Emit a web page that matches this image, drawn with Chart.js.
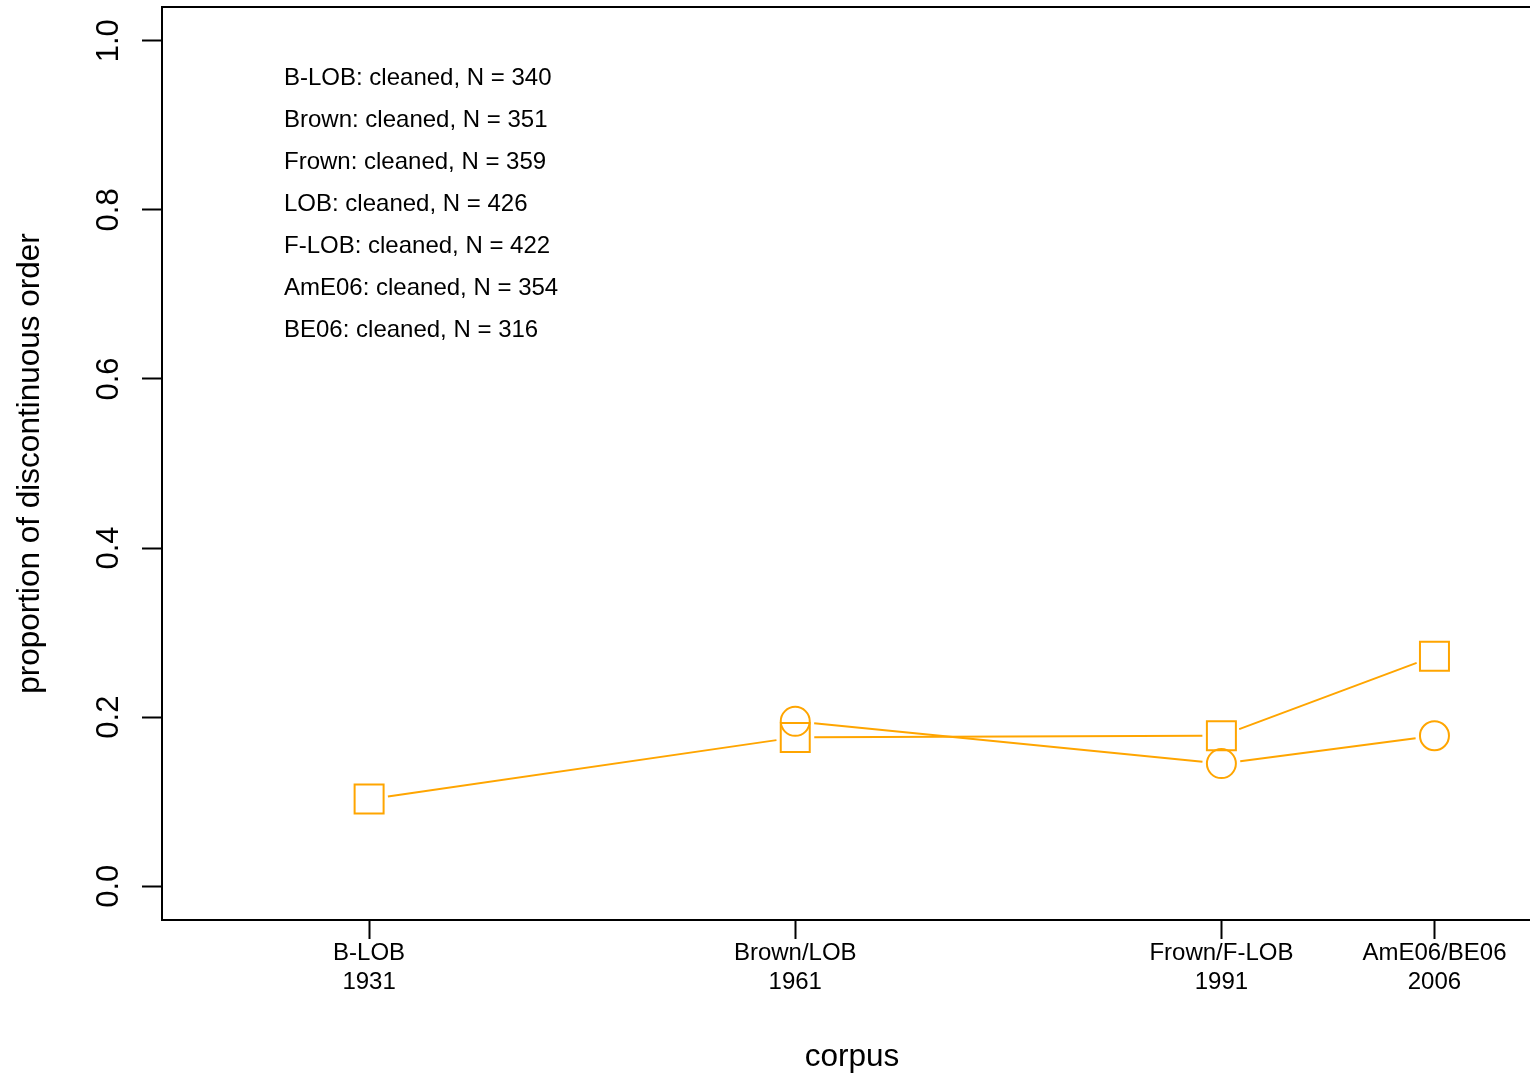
<!DOCTYPE html>
<html>
<head>
<meta charset="utf-8">
<script src="https://cdn.jsdelivr.net/npm/chart.js@4/dist/chart.umd.min.js"></script>
<style>
  html, body { margin: 0; padding: 0; background: #fff; width: 1530px; height: 1075px; overflow: hidden; }
  canvas { display: block; }
</style>
</head>
<body>
<canvas id="chart" width="1545" height="1075" style="width:1545px;height:1075px"></canvas>
<script>
// Corpus sampling points (year of each corpus pair) and their two-line tick labels
const corpusYears = [1931, 1961, 1991, 2006];
const corpusTickLabels = [
  ["B-LOB", "1931"],
  ["Brown/LOB", "1961"],
  ["Frown/F-LOB", "1991"],
  ["AmE06/BE06", "2006"]
];

// British English corpora (B-LOB, LOB, F-LOB, BE06) — squares
const britishYears = [1931, 1961, 1991, 2006];
const britishValues = [0.103, 0.176, 0.178, 0.272];

// American English corpora (Brown, Frown, AmE06) — circles
const americanYears = [1961, 1991, 2006];
const americanValues = [0.195, 0.145, 0.178];

// Y axis ticks
const yTickValues = [0, 0.2, 0.4, 0.6, 0.8, 1.0];
const yTickLabels = ["0.0", "0.2", "0.4", "0.6", "0.8", "1.0"];

// Sample sizes per corpus
const sampleNotes = [
  "B-LOB: cleaned, N = 340",
  "Brown: cleaned, N = 351",
  "Frown: cleaned, N = 359",
  "LOB: cleaned, N = 426",
  "F-LOB: cleaned, N = 422",
  "AmE06: cleaned, N = 354",
  "BE06: cleaned, N = 316"
];

const xTitle = "corpus";
const yTitle = "proportion of discontinuous order";

const FONT = '"Liberation Sans", Arial, Helvetica, sans-serif';
const ORANGE = "#FFA500";

function toPoints(xs, ys) {
  return xs.map((x, i) => ({ x: x, y: ys[i] }));
}

// Connecting lines with a small gap around each marker (like type = "b")
const gappedLines = {
  id: "gappedLines",
  beforeDatasetsDraw(chart) {
    const ctx = chart.ctx;
    const gap = 19;
    ctx.save();
    ctx.strokeStyle = ORANGE;
    ctx.lineWidth = 2;
    chart.data.datasets.forEach((ds, di) => {
      const pts = chart.getDatasetMeta(di).data;
      for (let i = 0; i < pts.length - 1; i++) {
        const a = pts[i], b = pts[i + 1];
        const dx = b.x - a.x, dy = b.y - a.y;
        const len = Math.hypot(dx, dy);
        if (len <= 2 * gap) continue;
        const ux = dx / len, uy = dy / len;
        ctx.beginPath();
        ctx.moveTo(a.x + ux * gap, a.y + uy * gap);
        ctx.lineTo(b.x - ux * gap, b.y - uy * gap);
        ctx.stroke();
      }
    });
    ctx.restore();
  }
};

// Frame, rotated y tick labels, axis titles and the sample-size notes
const annotations = {
  id: "annotations",
  afterDraw(chart) {
    const ctx = chart.ctx;
    const area = chart.chartArea;
    const yScale = chart.scales.y;
    ctx.save();

    ctx.strokeStyle = "#000";
    ctx.lineWidth = 2;
    ctx.strokeRect(area.left, area.top, area.right - area.left, area.bottom - area.top);

    ctx.fillStyle = "#000";
    ctx.font = "31px " + FONT;
    ctx.textAlign = "center";
    ctx.textBaseline = "alphabetic";
    yTickValues.forEach((v, i) => {
      const py = yScale.getPixelForValue(v);
      ctx.save();
      ctx.translate(117.5, py);
      ctx.rotate(-Math.PI / 2);
      ctx.fillText(yTickLabels[i], 0, 0);
      ctx.restore();
    });

    ctx.font = "31.5px " + FONT;
    ctx.save();
    ctx.translate(38.5, (area.top + area.bottom) / 2);
    ctx.rotate(-Math.PI / 2);
    ctx.fillText(yTitle, 0, 0);
    ctx.restore();

    ctx.fillText(xTitle, 852, 1066);

    ctx.font = "24px " + FONT;
    ctx.textAlign = "left";
    sampleNotes.forEach((t, i) => {
      ctx.fillText(t, 284, 84.5 + i * 42.15);
    });

    ctx.restore();
  }
};

new Chart(document.getElementById("chart"), {
  type: "scatter",
  data: {
    datasets: [
      {
        label: "BrE",
        data: toPoints(britishYears, britishValues),
        showLine: false,
        pointStyle: "rect",
        pointRadius: 20.5,
        pointBorderWidth: 2,
        pointBorderColor: ORANGE,
        pointBackgroundColor: "rgba(0,0,0,0)"
      },
      {
        label: "AmE",
        data: toPoints(americanYears, americanValues),
        showLine: false,
        pointStyle: "circle",
        pointRadius: 14.5,
        pointBorderWidth: 2,
        pointBorderColor: ORANGE,
        pointBackgroundColor: "rgba(0,0,0,0)"
      }
    ]
  },
  options: {
    responsive: false,
    animation: false,
    events: [],
    devicePixelRatio: 1,
    layout: { autoPadding: false, padding: { top: 7, right: 4, left: 0, bottom: 0 } },
    plugins: {
      legend: { display: false },
      tooltip: { enabled: false },
      title: { display: false }
    },
    scales: {
      x: {
        type: "linear",
        min: 1916.42,
        max: 2013.5,
        afterBuildTicks(scale) {
          scale.ticks = corpusYears.map(v => ({ value: v }));
        },
        afterFit(scale) { scale.height = 155; },
        border: { display: false },
        grid: {
          drawOnChartArea: false,
          drawTicks: true,
          tickLength: 19,
          tickWidth: 2,
          tickColor: "#000"
        },
        ticks: {
          autoSkip: false,
          maxRotation: 0,
          minRotation: 0,
          padding: 0,
          color: "#000",
          font: { family: FONT, size: 24, lineHeight: 1.21 },
          callback(value) {
            const i = corpusYears.indexOf(value);
            return i >= 0 ? corpusTickLabels[i] : "";
          }
        }
      },
      y: {
        type: "linear",
        min: -0.04,
        max: 1.04,
        afterBuildTicks(scale) {
          scale.ticks = yTickValues.map(v => ({ value: v }));
        },
        afterFit(scale) { scale.width = 162; },
        border: { display: false },
        grid: {
          drawOnChartArea: false,
          drawTicks: true,
          tickLength: 20,
          tickWidth: 2,
          tickColor: "#000"
        },
        ticks: { display: false }
      }
    }
  },
  plugins: [gappedLines, annotations]
});
</script>
</body>
</html>
